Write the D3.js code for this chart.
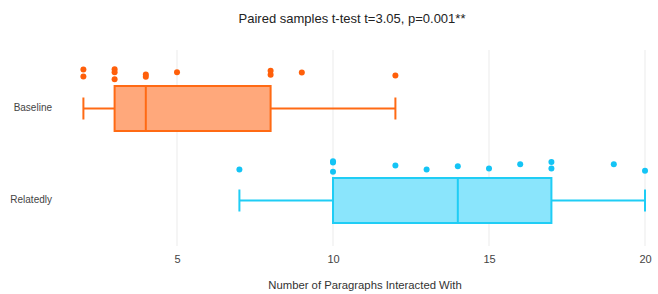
<!DOCTYPE html>
<html><head><meta charset="utf-8">
<script src="https://cdn.jsdelivr.net/npm/d3@7"></script>
<style>body{margin:0;background:#fff;font-family:"Liberation Sans",Arial,sans-serif;}</style>
</head><body><svg id="c" width="658" height="294"></svg>
<script>
const categories = ["Baseline", "Relatedly"];
const boxMin = [2, 7];
const boxQ1 = [3, 10];
const boxMedian = [4, 14];
const boxQ3 = [8, 17];
const boxMax = [12, 20];
const baselinePoints = [2, 2, 3, 3, 3, 4, 4, 5, 8, 8, 9, 12];
const baselineJitter = [-0.9, 0.35, -0.95, -0.4, 0.85, 0.0, 0.4, -0.4, -0.7, 0.05, -0.35, 0.2];
const relatedlyPoints = [7, 10, 10, 10, 12, 13, 14, 15, 16, 17, 17, 19, 20];
const relatedlyJitter = [0.55, -0.95, -0.75, 0.95, -0.2, 0.55, -0.05, 0.35, -0.4, -0.8, 0.35, -0.4, 0.75];
const xTicks = [5, 10, 15, 20];
const titleText = "Paired samples t-test t=3.05, p=0.001**";
const xTitle = "Number of Paragraphs Interacted With";

(function () {
const colors = [
  {line: "#FF6A14", fill: "#FFA87B", pt: "#FF5F0A"},
  {line: "#1FCDF5", fill: "#8AE5FC", pt: "#14C4F5"}
];

const svg = d3.select("#c");
const mLeft = 80, mRight = 650, mTop = 62, mBottom = 246;
const x = d3.scaleLinear().domain([1.891, 20.16]).range([mLeft, mRight]);
const y = d3.scaleBand().domain(categories).range([mTop, mBottom]).padding(0);
const cy = c => y(c) + y.bandwidth() / 2;

svg.append("g").selectAll("line").data(xTicks).join("line")
  .attr("x1", d => x(d)).attr("x2", d => x(d))
  .attr("y1", 50).attr("y2", mBottom)
  .attr("stroke", "#ebebeb").attr("stroke-width", 1);

const xa = svg.append("g").attr("transform", `translate(0,${mBottom})`)
  .call(d3.axisBottom(x).tickValues(xTicks).tickSize(0).tickPadding(9));
xa.select(".domain").remove();
xa.selectAll("text").attr("font-size", 11).attr("fill", "#444")
  .attr("font-family", "Liberation Sans, Arial, sans-serif");

const ya = svg.append("g").attr("transform", `translate(${mLeft},0)`)
  .call(d3.axisLeft(y).tickSize(0).tickPadding(28));
ya.select(".domain").remove();
ya.selectAll("text").attr("font-size", 10).attr("fill", "#444")
  .attr("font-family", "Liberation Sans, Arial, sans-serif");

const boxH = 45, capH = 22;
categories.forEach((c, i) => {
  const yc = cy(c) + 0.5;
  const g = svg.append("g");
  const col = colors[i];
  g.append("line").attr("x1", x(boxMin[i])).attr("x2", x(boxQ1[i]))
    .attr("y1", yc).attr("y2", yc).attr("stroke", col.line).attr("stroke-width", 2);
  g.append("line").attr("x1", x(boxQ3[i])).attr("x2", x(boxMax[i]))
    .attr("y1", yc).attr("y2", yc).attr("stroke", col.line).attr("stroke-width", 2);
  [boxMin[i], boxMax[i]].forEach(v => {
    g.append("line").attr("x1", x(v)).attr("x2", x(v))
      .attr("y1", yc - capH / 2).attr("y2", yc + capH / 2)
      .attr("stroke", col.line).attr("stroke-width", 2);
  });
  g.append("rect").attr("x", x(boxQ1[i])).attr("y", yc - boxH / 2)
    .attr("width", x(boxQ3[i]) - x(boxQ1[i])).attr("height", boxH)
    .attr("fill", col.fill).attr("stroke", col.line).attr("stroke-width", 2);
  g.append("line").attr("x1", x(boxMedian[i])).attr("x2", x(boxMedian[i]))
    .attr("y1", yc - boxH / 2).attr("y2", yc + boxH / 2)
    .attr("stroke", col.line).attr("stroke-width", 2);
  const pts = i === 0 ? baselinePoints : relatedlyPoints;
  const jit = i === 0 ? baselineJitter : relatedlyJitter;
  const pc = yc - 34;
  g.append("g").selectAll("circle").data(pts).join("circle")
    .attr("cx", d => x(d)).attr("cy", (d, k) => pc + jit[k] * 5.5)
    .attr("r", 3).attr("fill", col.pt);
});

svg.append("text").attr("x", 352).attr("y", 23).attr("text-anchor", "middle")
  .attr("font-size", 13).attr("fill", "#222").text(titleText);
svg.append("text").attr("x", 365).attr("y", 289).attr("text-anchor", "middle")
  .attr("font-size", 11.3).attr("fill", "#333").text(xTitle);
})();
</script></body></html>
